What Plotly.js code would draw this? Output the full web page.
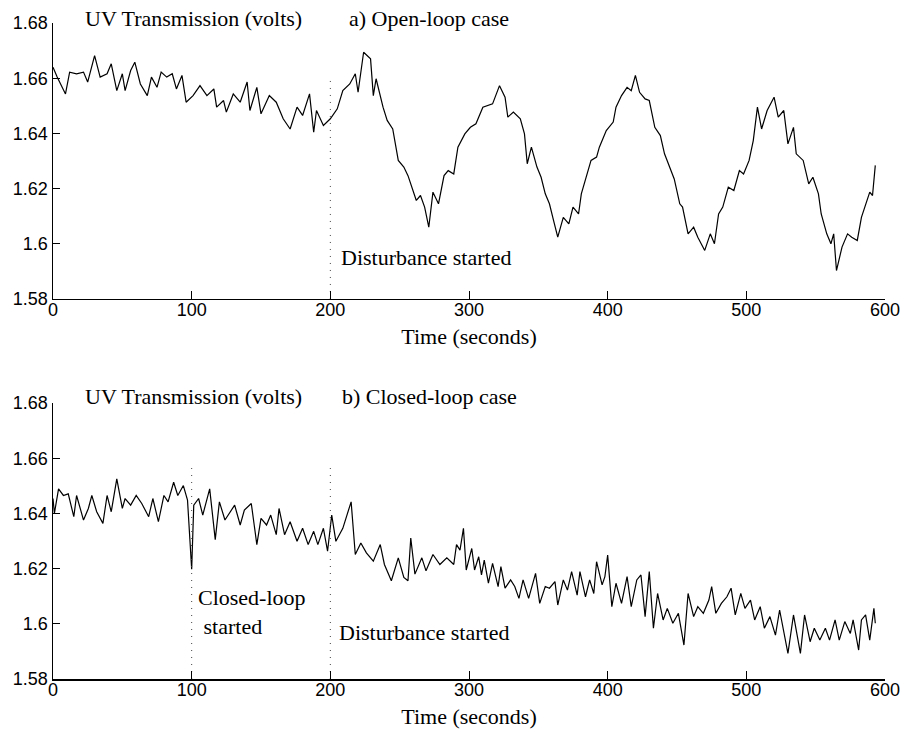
<!DOCTYPE html>
<html>
<head>
<meta charset="utf-8">
<script src="https://cdn.plot.ly/plotly-3.0.1.min.js"></script>
<style>html,body{margin:0;padding:0;background:#fff}#chart{width:904px;height:732px}</style>
</head>
<body>
<div id="chart"></div>
<script>
// a) Open-loop case: time (s) and UV transmission (V)
const openT = [0,3,9,12,17,22,25,30,34,39,42,46,50,52,56,59,63,68,71,75,78,82,86,89,93,96,101,106,111,116,118,123,125,130,135,140,142,147,150,156,161,166,171,176,180,185,188,190,195,200,205,209,214,218,220,224,229,231,233,238,241,245,249,253,256,259,262,265,268,271,274,278,282,285,289,292,297,301,305,310,317,322,326,328,332,337,340,342,345,349,352,355,358,361,364,368,372,375,379,381,385,388,392,394,399,404,406,410,414,417,420,423,427,430,434,438,441,445,448,452,454,458,462,465,470,474,477,480,483,487,491,495,498,502,505,508,511,515,520,523,527,530,534,536,541,545,548,552,554,558,561,563,565,569,573,576,580,583,586,589,591,593];
const openV = [1.6640,1.6604,1.6543,1.6622,1.6616,1.6622,1.6586,1.6682,1.6604,1.6616,1.6652,1.6555,1.6616,1.6555,1.6628,1.6658,1.6579,1.6537,1.6604,1.6567,1.6622,1.6604,1.6616,1.6561,1.6610,1.6513,1.6537,1.6573,1.6537,1.6561,1.6495,1.6519,1.6477,1.6543,1.6513,1.6586,1.6483,1.6567,1.6471,1.6537,1.6513,1.6453,1.6416,1.6495,1.6465,1.6543,1.6404,1.6483,1.6429,1.6453,1.6489,1.6555,1.6579,1.6616,1.6549,1.6694,1.6670,1.6537,1.6598,1.6495,1.6447,1.6416,1.6302,1.6278,1.6247,1.6199,1.6157,1.6175,1.6133,1.6060,1.6187,1.6145,1.6247,1.6265,1.6253,1.6350,1.6398,1.6422,1.6435,1.6495,1.6507,1.6573,1.6531,1.6459,1.6477,1.6453,1.6398,1.6290,1.6350,1.6278,1.6241,1.6181,1.6145,1.6084,1.6024,1.6096,1.6072,1.6133,1.6108,1.6181,1.6253,1.6302,1.6314,1.6350,1.6410,1.6441,1.6495,1.6537,1.6567,1.6555,1.6610,1.6549,1.6525,1.6519,1.6422,1.6392,1.6326,1.6278,1.6235,1.6145,1.6133,1.6036,1.6060,1.6024,1.5976,1.6036,1.6000,1.6108,1.6133,1.6205,1.6193,1.6265,1.6253,1.6302,1.6374,1.6495,1.6416,1.6483,1.6531,1.6459,1.6483,1.6362,1.6422,1.6326,1.6302,1.6217,1.6241,1.6181,1.6108,1.6036,1.6000,1.6036,1.5903,1.5988,1.6036,1.6024,1.6012,1.6096,1.6145,1.6187,1.6175,1.6284];

// b) Closed-loop case
const closedT = [0,1,4,7.5,11,15,17,22,25.5,28,31.5,36,39,42,46,50,52,56,60,64,69,72,76,80,83,87,90,94,97,100,101.5,105,108,113,117,120,124,128,131,135,138,143,147,150,154,157,161,163,167,171,176,180,184,188,191,195,198,201,204,209,215,218,222,226,231,236,239,244,249,253,256,258,261,266,269,274,279,284,289,291,293.5,296,298,302,304,307,309,311,314,317,321,323,326,330,333,336,339,343,348,351,355,358,362,364,368,371,374,378,380,384,387,390,392,396,398,400,403,406,410,414,417,421,424,427,430,433,436,440,443,447,451,455,458,462,465,469,473,475,478,482,486,489,492,496,499,503,506,510,513,517,521,524,528,530,534,539,542,546,549,553,557,560,564,567,571,575,577,581,583,586,589,592,593];
const closedV = [1.6454,1.6400,1.6489,1.6465,1.6471,1.6388,1.6465,1.6376,1.6418,1.6465,1.6406,1.6364,1.6465,1.6406,1.6525,1.6418,1.6454,1.6430,1.6465,1.6436,1.6388,1.6454,1.6370,1.6465,1.6442,1.6513,1.6465,1.6501,1.6448,1.6198,1.6430,1.6454,1.6394,1.6489,1.6305,1.6442,1.6376,1.6406,1.6430,1.6358,1.6412,1.6436,1.6287,1.6382,1.6358,1.6394,1.6323,1.6418,1.6323,1.6370,1.6299,1.6346,1.6287,1.6335,1.6287,1.6346,1.6263,1.6394,1.6299,1.6346,1.6442,1.6251,1.6293,1.6257,1.6227,1.6287,1.6215,1.6156,1.6239,1.6168,1.6156,1.6311,1.6180,1.6239,1.6192,1.6251,1.6215,1.6239,1.6215,1.6287,1.6267,1.6346,1.6195,1.6273,1.6195,1.6243,1.6177,1.6231,1.6147,1.6219,1.6135,1.6207,1.6129,1.6159,1.6135,1.6092,1.6159,1.6092,1.6183,1.6074,1.6135,1.6129,1.6153,1.6068,1.6159,1.6122,1.6189,1.6104,1.6189,1.6098,1.6159,1.6110,1.6225,1.6141,1.6171,1.6249,1.6062,1.6147,1.6074,1.6171,1.6062,1.6159,1.6177,1.6026,1.6189,1.5984,1.6110,1.6014,1.6056,1.6002,1.6038,1.5923,1.6110,1.6026,1.6062,1.6038,1.6086,1.6135,1.6038,1.6074,1.6098,1.6129,1.6032,1.6110,1.6056,1.6086,1.6014,1.6062,1.5984,1.6026,1.5959,1.6050,1.5935,1.5893,1.6032,1.5893,1.6032,1.5935,1.5984,1.5941,1.5984,1.5941,1.6014,1.5941,1.6008,1.5965,1.6014,1.5905,1.6014,1.6032,1.5941,1.6056,1.6002];

// event markers (dotted verticals)
const openEventT = [200];
const openEventTop = 1.660;
const closedEventT = [100, 200];
const closedEventTop = 1.6565;

const xTicks = [0,100,200,300,400,500,600];
const yTickVals = [1.58,1.60,1.62,1.64,1.66,1.68];
const yTickText = ['1.58','1.6','1.62','1.64','1.66','1.68'];

const serif = 'Liberation Serif, Times New Roman, serif';
const sans = 'Liberation Sans, Arial, Helvetica, sans-serif';

const traces = [];
traces.push({x: openT, y: openV, type:'scatter', mode:'lines', line:{color:'#000', width:1.2}, xaxis:'x', yaxis:'y', hoverinfo:'skip'});
traces.push({x: closedT, y: closedV, type:'scatter', mode:'lines', line:{color:'#000', width:1.2}, xaxis:'x2', yaxis:'y2', hoverinfo:'skip'});
openEventT.forEach(t => traces.push({x:[t,t], y:[1.58, openEventTop], type:'scatter', mode:'lines', line:{color:'#444', width:1, dash:'1px,6px'}, xaxis:'x', yaxis:'y', hoverinfo:'skip'}));
closedEventT.forEach(t => traces.push({x:[t,t], y:[1.58, closedEventTop], type:'scatter', mode:'lines', line:{color:'#444', width:1, dash:'1px,6px'}, xaxis:'x2', yaxis:'y2', hoverinfo:'skip'}));

function xa(anchor){
  return {anchor: anchor, range:[0,600], tickvals:xTicks, ticktext:xTicks.map(String),
    ticks:'inside', ticklen:8, tickwidth:1, tickcolor:'#000', showline:true, linecolor:'#000', linewidth:1.5,
    showgrid:false, zeroline:false, mirror:false, tickfont:{family:sans, size:18, color:'#000'},
    ticklabelstandoff:-6,
    title:{text:'Time (seconds)', font:{family:serif, size:22, color:'#000'}, standoff:9}};
}
function ya(anchor, domain){
  return {anchor: anchor, domain: domain, range:[1.58,1.68], tickvals:yTickVals, ticktext:yTickText,
    ticks:'inside', ticklen:7, tickwidth:1, tickcolor:'#000', showline:true, linecolor:'#000', linewidth:1.5,
    showgrid:false, zeroline:false, mirror:false, tickfont:{family:sans, size:18, color:'#000'}};
}

const tf = {family:serif, size:22, color:'#000'};
const annotations = [
  {xref:'x', yref:'paper', x:21.6, y:1.0076, text:'UV Transmission (volts)', showarrow:false, xanchor:'left', yanchor:'middle', font:tf},
  {xref:'x', yref:'paper', x:212, y:1.0076, text:'a) Open-loop case', showarrow:false, xanchor:'left', yanchor:'middle', font:tf},
  {xref:'x', yref:'y', x:206, y:1.5949, text:'Disturbance started', showarrow:false, xanchor:'left', yanchor:'middle', font:tf},
  {xref:'x2', yref:'paper', x:21.6, y:0.4299, text:'UV Transmission (volts)', showarrow:false, xanchor:'left', yanchor:'middle', font:tf},
  {xref:'x2', yref:'paper', x:207, y:0.4299, text:'b) Closed-loop case', showarrow:false, xanchor:'left', yanchor:'middle', font:tf},
  {xref:'x2', yref:'y2', x:103, y:1.6043, text:'Closed-loop<br>\u00a0started', showarrow:false, xanchor:'left', yanchor:'middle', align:'left', font:tf},
  {xref:'x2', yref:'y2', x:205, y:1.5970, text:'Disturbance started', showarrow:false, xanchor:'left', yanchor:'middle', font:tf}
];

const layout = {
  width:904, height:732, paper_bgcolor:'#fff', plot_bgcolor:'#fff', showlegend:false,
  margin:{l:53, r:19, t:23, b:53},
  xaxis: xa('y'), yaxis: ya('x', [0.5793, 1]),
  xaxis2: xa('y2'), yaxis2: ya('x2', [0, 0.4207]),
  annotations: annotations
};

Plotly.newPlot('chart', traces, layout, {staticPlot:true, displayModeBar:false});
</script>
</body>
</html>
